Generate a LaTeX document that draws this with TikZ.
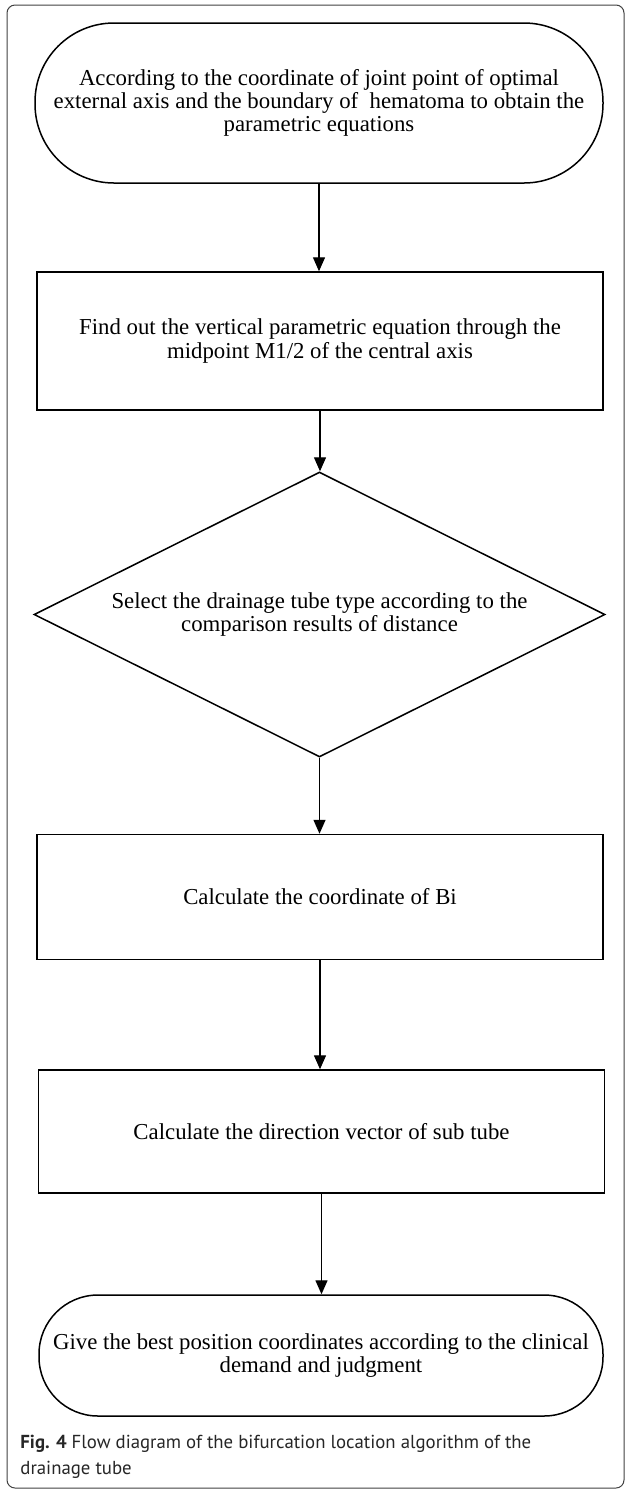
\documentclass[tikz,border=0pt]{standalone}
\usepackage{fontspec}
\setmainfont{Liberation Serif}
\newfontfamily\capfont{PT Sans}
\usetikzlibrary{shapes.geometric,arrows.meta}

\begin{document}
\begin{tikzpicture}[x=0.5pt,y=-0.5pt,
        every node/.style={inner sep=0pt,align=center,
            font=\fontsize{11.4}{11.6}\selectfont},
        terminal/.style={draw,line width=0.75pt,rectangle,rounded corners=#1,
            minimum width=284pt},
        process/.style={draw,line width=0.75pt,rectangle,minimum width=283pt},
        decision/.style={draw,line width=0.75pt,diamond,shape aspect=2,
            minimum width=285.5pt,minimum height=142.5pt},
        flow/.style={line width=0.7pt,-{Triangle[length=7pt,width=6pt]}}]

        \useasboundingbox (0,0) rectangle (625,1490);

        % outer frame of the figure (open to the right edge)
        \draw[line width=0.5pt,black!75,rounded corners=4pt] (7,5) rectangle (624,1488);

        % steps of the algorithm, top to bottom
        \node[terminal=39.5pt,minimum height=80pt] (eqs) at (319,103)
            {According to the coordinate of joint point of optimal\\
             external axis and the boundary of \ hematoma to obtain the\\
             parametric equations};
        \node[process,minimum height=69pt] (vert) at (320,341)
            {Find out the vertical parametric equation through the\\
             midpoint M1/2 of the central axis};
        \node[decision] (tube) at (319.5,614.5)
            {Select the drainage tube type according to the\\
             comparison results of distance};
        \node[process,minimum height=62.5pt] (coordB) at (320,897)
            {Calculate the coordinate of Bi};
        \node[process,minimum height=61.5pt] (subvec) at (321.5,1131.5)
            {Calculate the direction vector of sub tube};
        \node[terminal=29.5pt,minimum height=60.5pt,minimum width=282pt] (best) at (321,1355.5)
            {Give the best position coordinates according to the clinical\\
             demand and judgment};

        % connectors
        \draw[flow] (eqs.south) -- (eqs.south |- vert.north);
        \draw[flow] (vert.south) -- (vert.south |- tube.north);
        \draw[flow] (tube.south) -- (tube.south |- coordB.north);
        \draw[flow] (coordB.south) -- (coordB.south |- subvec.north);
        \draw[flow] (subvec.south) -- (subvec.south |- best.north);

        % caption (base anchor sits on the last line)
        \node[anchor=base west,align=left,text=black!85,
            font=\capfont\fontsize{9.4}{13}\selectfont] (cap) at (20,1474)
            {\textbf{Fig. 4} Flow diagram of the bifurcation location algorithm of the\\
             drainage tube};
\end{tikzpicture}
\end{document}
